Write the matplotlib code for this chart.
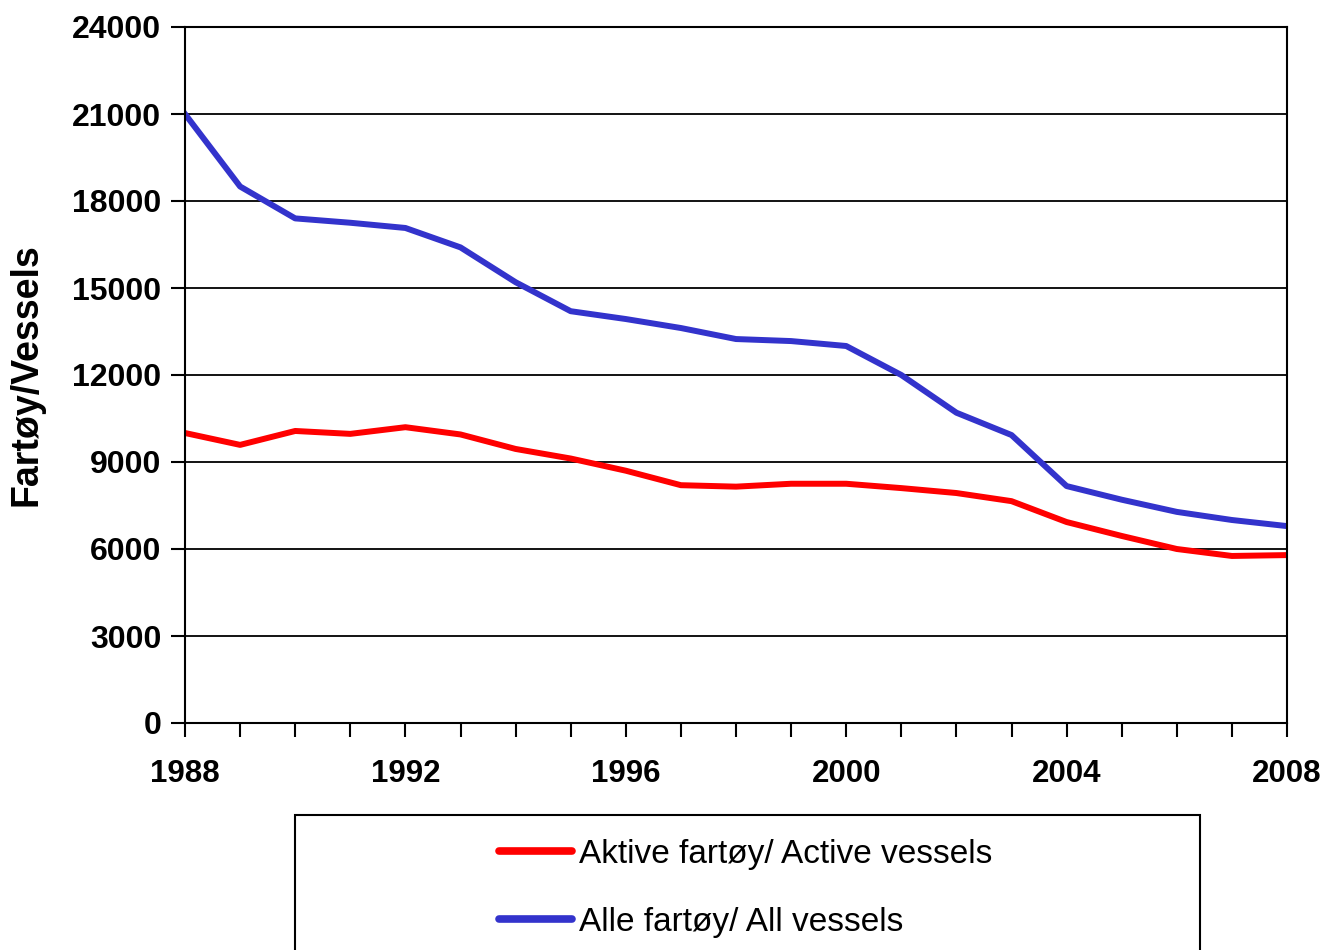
import matplotlib
matplotlib.use('Agg')
import matplotlib.pyplot as plt
from matplotlib.patches import Rectangle
from matplotlib.ticker import MultipleLocator

years = list(range(1988, 2009))
active = [10000, 9590, 10070, 9970, 10200, 9950, 9450, 9120, 8700, 8200,
          8150, 8250, 8250, 8100, 7930, 7650, 6930, 6450, 6000, 5760, 5790]
all_vessels = [21000, 18500, 17400, 17250, 17070, 16400, 15200, 14200, 13930, 13620,
               13240, 13170, 13000, 12000, 10700, 9930, 8170, 7700, 7280, 7000, 6790]

label_active = 'Aktive fartøy/ Active vessels'
label_all = 'Alle fartøy/ All vessels'

plt.rcParams['font.family'] = ['Liberation Sans', 'DejaVu Sans']

fig = plt.figure(figsize=(13.28, 9.5), dpi=100)
ax = fig.add_axes([185/1328, 1 - 723/950, (1287-185)/1328, (723-27)/950])

l1, = ax.plot(years, active, color='#ff0000', lw=4.3, label=label_active)
l2, = ax.plot(years, all_vessels, color='#3333cc', lw=4.3, label=label_all)

ax.set_xlim(1988, 2008)
ax.set_ylim(0, 24000)
ax.yaxis.set_major_locator(MultipleLocator(3000))
ax.xaxis.set_major_locator(MultipleLocator(4))
ax.xaxis.set_minor_locator(MultipleLocator(1))
ax.grid(axis='y', color='black', lw=1.3)
ax.set_axisbelow(True)
for s in ax.spines.values():
    s.set_linewidth(1.5)
ax.tick_params(axis='both', which='both', direction='out', width=1.5, colors='black')
ax.tick_params(axis='y', length=10, pad=7, labelsize=23)
ax.tick_params(axis='x', which='major', length=10, pad=16, labelsize=22.5)
ax.tick_params(axis='x', which='minor', length=10)
for t in ax.get_xticklabels() + ax.get_yticklabels():
    t.set_fontweight('bold')
ax.set_ylabel('Fartøy/Vessels', fontsize=27, fontweight='bold', labelpad=20)

# legend box reaching past the bottom edge
fig.patches.append(Rectangle((295/1328, -0.05), (1200-295)/1328, 0.05 + (950-815)/950,
                             transform=fig.transFigure, fill=False, ec='black', lw=1.5))
leg = fig.legend(handles=[l1, l2], loc='upper left', bbox_to_anchor=(469/1328, 1 - 809/950),
                 frameon=False, fontsize=24, handlelength=2.2, handletextpad=0.2,
                 labelspacing=1.1)
for ln in leg.get_lines():
    ln.set_linewidth(5.5)
    ln.set_solid_capstyle('round')

fig.savefig('out.png', dpi=100)
